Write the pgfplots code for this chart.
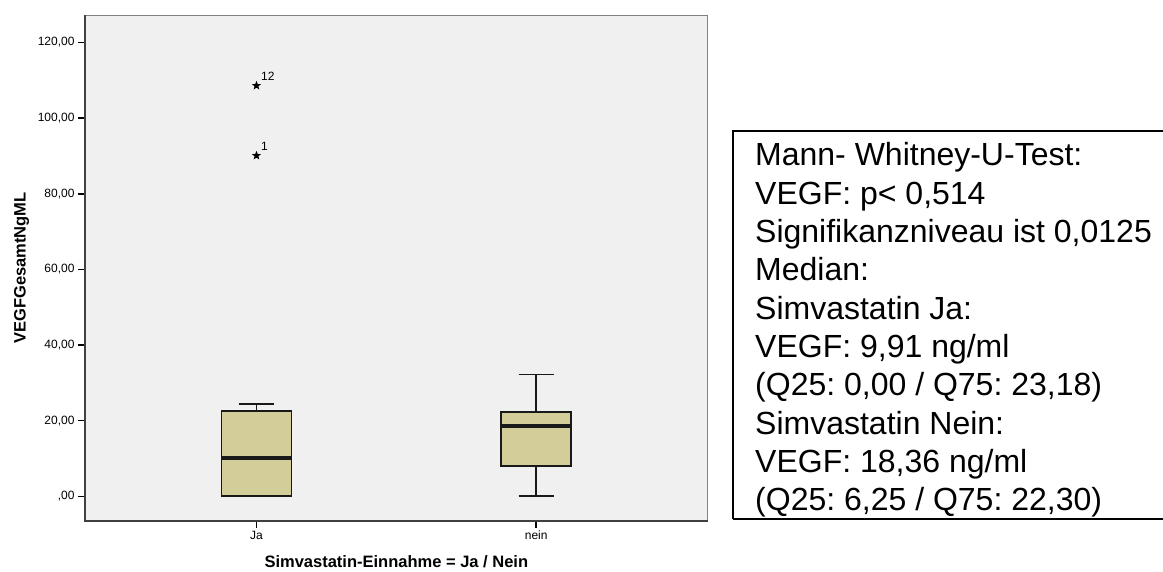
\documentclass[border=0pt]{standalone}
\usepackage{fontspec}
\setmainfont{Liberation Sans}
\usepackage{pgfplots}
\pgfplotsset{compat=1.18}
\usepgfplotslibrary{statistics}
\definecolor{boxfill}{HTML}{D3CE99}
\definecolor{bgfill}{HTML}{F0F0F0}
\definecolor{framec}{HTML}{404040}
\definecolor{framelight}{HTML}{808080}
\pgfdeclareplotmark{fstar}{%
  \pgfpathmoveto{\pgfpointpolar{90}{\pgfplotmarksize}}%
  \pgfpathlineto{\pgfpointpolar{126}{0.42\pgfplotmarksize}}%
  \pgfpathlineto{\pgfpointpolar{162}{\pgfplotmarksize}}%
  \pgfpathlineto{\pgfpointpolar{198}{0.42\pgfplotmarksize}}%
  \pgfpathlineto{\pgfpointpolar{234}{\pgfplotmarksize}}%
  \pgfpathlineto{\pgfpointpolar{270}{0.42\pgfplotmarksize}}%
  \pgfpathlineto{\pgfpointpolar{306}{\pgfplotmarksize}}%
  \pgfpathlineto{\pgfpointpolar{342}{0.42\pgfplotmarksize}}%
  \pgfpathlineto{\pgfpointpolar{18}{\pgfplotmarksize}}%
  \pgfpathlineto{\pgfpointpolar{54}{0.42\pgfplotmarksize}}%
  \pgfpathclose
  \pgfusepathqfill}
\frenchspacing
\begin{document}
\begin{tikzpicture}
\useasboundingbox (0pt,0pt) rectangle (1163pt,572pt);
\begin{axis}[
  at={(85pt,51.3pt)}, anchor=south west,
  scale only axis, width=622.7pt, height=505.4pt,
  xmin=0.387, xmax=2.613, ymin=-6.45, ymax=127.2,
  axis background/.style={fill=bgfill},
  axis line style={draw=framelight, line width=1.5pt},
  xtick={1,2}, xticklabels={Ja,nein},
  ytick={0,20,40,60,80,100,120},
  yticklabels={{,00},{20,00},{40,00},{60,00},{80,00},{100,00},{120,00}},
  xtick pos=bottom, ytick pos=left,
  tick align=outside, major tick length=7pt,
  tick style={black, line width=1.5pt},
  ticklabel style={font=\fontsize{12}{14}\selectfont},
  xlabel={Simvastatin-Einnahme = Ja / Nein},
  ylabel={VEGFGesamtNgML},
  label style={font=\bfseries\fontsize{16.5}{18}\selectfont},
  xlabel style={at={(axis description cs:0.5,-0.0922)}, anchor=base},
  ylabel style={at={(axis description cs:-0.1017,0.5)}, anchor=center},
  boxplot/draw direction=y,
  clip=false,
]
\addplot+[boxplot prepared={draw position=1, lower whisker=0, lower quartile=0,
   median=10.05, upper quartile=22.5, upper whisker=24.5,
   box extend=0.25, whisker extend=0.125, draw direction=y},
   boxplot/every median/.style={line width=4pt},
   fill=boxfill, draw=black!90, line width=1.7pt, mark=none] coordinates {};
\addplot+[boxplot prepared={draw position=2, lower whisker=0, lower quartile=8.1,
   median=18.6, upper quartile=22.3, upper whisker=32.2,
   box extend=0.25, whisker extend=0.125, draw direction=y},
   boxplot/every median/.style={line width=4pt},
   fill=boxfill, draw=black!90, line width=1.7pt, mark=none] coordinates {};
\addplot[only marks, mark=fstar, mark size=4.8pt, black,
   nodes near coords, point meta=explicit symbolic,
   every node near coord/.append style={anchor=south west, inner sep=0pt,
     xshift=4.5pt, yshift=4.5pt, font=\fontsize{12}{13}\selectfont}]
   table[meta=lab, row sep=\\] {x y lab\\ 1 108.6 12\\ 1 90.1 1\\};
\draw[framec, line width=1.8pt] (rel axis cs:0,1) -- (rel axis cs:0,0) -- (rel axis cs:1,0);
\end{axis}
\draw[line width=2pt] (733.3pt,52.7pt) -- (733.3pt,441.3pt) -- (1180pt,441.3pt);
\draw[line width=2pt] (733.3pt,52.7pt) -- (1180pt,52.7pt);
\begin{scope}[every node/.style={anchor=base west, inner sep=0pt, font=\fontsize{32}{38}\selectfont}]
\node at (755pt,406.0pt) {Mann- Whitney-U-Test:};
\node at (755pt,367.7pt) {VEGF: p< 0,514};
\node at (755pt,329.4pt) {Signifikanzniveau ist 0,0125};
\node at (755pt,291.1pt) {Median:};
\node at (755pt,252.8pt) {Simvastatin Ja:};
\node at (755pt,214.5pt) {VEGF: 9,91 ng/ml};
\node at (755pt,176.2pt) {(Q25: 0,00 / Q75: 23,18)};
\node at (755pt,137.9pt) {Simvastatin Nein:};
\node at (755pt,99.6pt) {VEGF: 18,36 ng/ml};
\node at (755pt,61.3pt) {(Q25: 6,25 / Q75: 22,30)};
\end{scope}
\end{tikzpicture}
\end{document}
